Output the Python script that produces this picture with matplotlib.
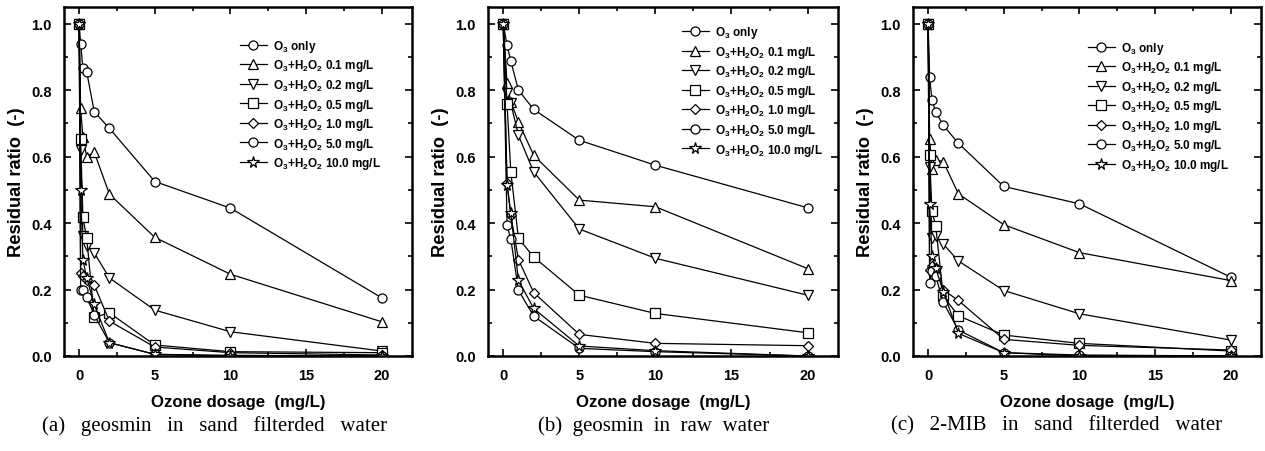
import matplotlib
matplotlib.use("Agg")
import matplotlib.pyplot as plt
from matplotlib.ticker import MultipleLocator

plt.rcParams['font.family'] = ['Liberation Sans', 'DejaVu Sans']
plt.rcParams['mathtext.fontset'] = 'custom'
plt.rcParams['mathtext.bf'] = 'Liberation Sans:bold'
plt.rcParams['mathtext.rm'] = 'Liberation Sans:bold'
plt.rcParams['mathtext.default'] = 'bf'

# Ozone dosage (mg/L)
ozone_ac = [0, 0.1, 0.25, 0.5, 1, 2, 5, 10, 20]
ozone_b = [0, 0.25, 0.5, 1, 2, 5, 10, 20]

series_labels = ["O$_3$ only",
                 "O$_3$+H$_2$O$_2$ 0.1 mg/L",
                 "O$_3$+H$_2$O$_2$ 0.2 mg/L",
                 "O$_3$+H$_2$O$_2$ 0.5 mg/L",
                 "O$_3$+H$_2$O$_2$ 1.0 mg/L",
                 "O$_3$+H$_2$O$_2$ 5.0 mg/L",
                 "O$_3$+H$_2$O$_2$ 10.0 mg/L"]
markers = ['o', '^', 'v', 's', 'D', 'o', '*']

# (a) geosmin in sand filtered water
a_o3 = [1.0, 0.94, 0.865, 0.855, 0.735, 0.685, 0.525, 0.445, 0.175]
a_01 = [1.0, 0.745, 0.658, 0.60, 0.613, 0.487, 0.357, 0.246, 0.103]
a_02 = [1.0, 0.62, 0.36, 0.33, 0.31, 0.235, 0.138, 0.073, 0.015]
a_05 = [1.0, 0.653, 0.417, 0.355, 0.116, 0.13, 0.033, 0.013, 0.01]
a_10 = [1.0, 0.251, 0.24, 0.23, 0.213, 0.105, 0.027, 0.01, 0.003]
a_50 = [1.0, 0.20, 0.198, 0.178, 0.123, 0.04, 0.005, 0.002, 0.0]
a_100 = [1.0, 0.50, 0.29, 0.235, 0.155, 0.04, 0.005, 0.0, 0.0]

# (b) geosmin in raw water
b_o3 = [1.0, 0.935, 0.887, 0.80, 0.742, 0.649, 0.574, 0.446]
b_01 = [1.0, 0.82, 0.765, 0.704, 0.604, 0.469, 0.449, 0.263]
b_02 = [1.0, 0.79, 0.76, 0.664, 0.554, 0.382, 0.294, 0.183]
b_05 = [1.0, 0.759, 0.554, 0.354, 0.298, 0.183, 0.128, 0.070]
b_10 = [1.0, 0.52, 0.424, 0.29, 0.191, 0.065, 0.038, 0.031]
b_50 = [1.0, 0.394, 0.351, 0.198, 0.12, 0.023, 0.013, 0.0]
b_100 = [1.0, 0.515, 0.429, 0.228, 0.143, 0.03, 0.016, 0.0]

# (c) 2-MIB in sand filtered water
c_o3 = [1.0, 0.838, 0.771, 0.734, 0.694, 0.64, 0.51, 0.458, 0.237]
c_01 = [1.0, 0.654, 0.562, 0.59, 0.585, 0.488, 0.395, 0.311, 0.227]
c_02 = [1.0, 0.57, 0.355, 0.36, 0.337, 0.286, 0.197, 0.127, 0.048]
c_05 = [1.0, 0.605, 0.435, 0.392, 0.18, 0.121, 0.063, 0.038, 0.015]
c_10 = [1.0, 0.26, 0.27, 0.265, 0.199, 0.167, 0.05, 0.032, 0.018]
c_50 = [1.0, 0.219, 0.257, 0.241, 0.161, 0.078, 0.01, 0.003, 0.0]
c_100 = [1.0, 0.458, 0.30, 0.264, 0.194, 0.068, 0.01, 0.0, 0.0]

captions = ["(a)   geosmin   in   sand   filterded   water",
            "(b)  geosmin  in  raw  water",
            "(c)   2-MIB   in   sand   filterded   water"]

panels = [
    (ozone_ac, [a_o3, a_01, a_02, a_05, a_10, a_50, a_100]),
    (ozone_b, [b_o3, b_01, b_02, b_05, b_10, b_50, b_100]),
    (ozone_ac, [c_o3, c_01, c_02, c_05, c_10, c_50, c_100]),
]

W, H = 1265, 452
fig = plt.figure(figsize=(W / 100, H / 100), dpi=100)
lefts = [64, 488, 913]
widths = [348, 350, 348]
top_px, bot_px = 8, 357
leg_anchor = [(0.491, 0.925), (0.540, 0.964), (0.489, 0.920)]
cap_centers = [215, 654, 1057]

for (xs, data), caption, lp, wp, anc, cc in zip(panels, captions, lefts, widths,
                                                 leg_anchor, cap_centers):
    ax = fig.add_axes([lp / W, 1 - bot_px / H, wp / W, (bot_px - top_px) / H])
    for vals, lab, m in zip(data, series_labels, markers):
        ms = 8.5 if m == '*' else (5.5 if m == 'D' else 6.5)
        ax.plot(xs, vals, color='black', lw=0.9, marker=m, ms=ms,
                mfc='white', mec='black', mew=0.9, label=lab)
    ax.set_xlim(-1, 22)
    ax.set_ylim(0, 1.05)
    ax.xaxis.set_major_locator(MultipleLocator(5))
    ax.xaxis.set_minor_locator(MultipleLocator(2.5))
    ax.yaxis.set_major_locator(MultipleLocator(0.2))
    ax.yaxis.set_minor_locator(MultipleLocator(0.1))
    ax.tick_params(which='both', direction='in', right=True, top=True,
                   labelsize=10.5, width=1.2)
    ax.tick_params(which='major', length=5, pad=9)
    ax.tick_params(which='minor', length=3)
    ax.set_yticklabels([f"{v:.1f}" for v in ax.get_yticks()], fontweight='bold')
    ax.set_xticklabels([f"{int(v)}" for v in ax.get_xticks()], fontweight='bold')
    for s in ax.spines.values():
        s.set_linewidth(1.8)
    ax.set_xlabel("Ozone dosage  (mg/L)", fontsize=12.1, fontweight='bold', labelpad=8.5)
    ax.set_ylabel("Residual ratio  (-)", fontsize=13.2, fontweight='bold', labelpad=4)
    ax.legend(loc='upper left', bbox_to_anchor=anc, frameon=False,
              handlelength=2.3, handletextpad=0.5,
              labelspacing=0.3, borderaxespad=0,
              prop={'weight': 'bold', 'size': 8.5})
    fig.text(cc / W, 1 - 426 / H, caption, ha='center', va='center',
             family=['Liberation Serif', 'DejaVu Serif'], fontsize=15)

fig.savefig("out.png", dpi=100)
